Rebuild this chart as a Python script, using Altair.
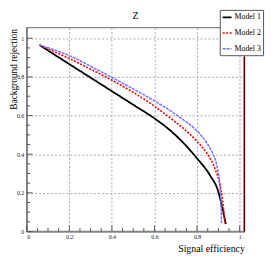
import altair as alt
import pandas as pd

title_text = ["Z"]
models = ["Model 1", "Model 2", "Model 3"]
colors = ["#000000", "#ff0000", "#7070ff"]
dashes = [[1, 0], [2, 1.5], [3, 1]]
widths = [1.8, 1.5, 1.2]

m1_x = [0.06, 0.2, 0.3, 0.4, 0.5, 0.6, 0.661, 0.73, 0.80, 0.861, 0.90, 0.915, 0.925, 0.935]
m1_y = [0.965, 0.866, 0.796, 0.726, 0.656, 0.585, 0.535, 0.465, 0.378, 0.29, 0.205, 0.14, 0.09, 0.038]
m2_x = [0.06, 0.2, 0.3, 0.4, 0.5, 0.6, 0.7, 0.75, 0.80, 0.846, 0.884, 0.908, 0.92, 0.931]
m2_y = [0.965, 0.895, 0.84, 0.783, 0.72, 0.648, 0.565, 0.52, 0.466, 0.405, 0.325, 0.24, 0.16, 0.043]
m3_x = [0.06, 0.2, 0.3, 0.4, 0.5, 0.6, 0.66, 0.72, 0.77, 0.80, 0.846, 0.871, 0.893, 0.905, 0.911, 0.915]
m3_y = [0.965, 0.91, 0.855, 0.797, 0.738, 0.676, 0.636, 0.59, 0.55, 0.52, 0.458, 0.41, 0.34, 0.26, 0.18, 0.043]

major_ticks = [0, 0.2, 0.4, 0.6, 0.8, 1.0]
minor_ticks = [0.05, 0.1, 0.15, 0.25, 0.3, 0.35, 0.45, 0.5, 0.55, 0.65, 0.7, 0.75, 0.85, 0.9, 0.95]
x_domain = [0, 1.022]
y_domain = [0, 1.055]
edge_x = [1.022]
edge_y = [0, 0.905]

rows = []
for name, xs_, ys_ in zip(models, [m1_x, m2_x, m3_x], [m1_y, m2_y, m3_y]):
    for i, (a, b) in enumerate(zip(xs_, ys_)):
        rows.append({"model": name, "eff": a, "rej": b, "i": i})
df = pd.DataFrame(rows)

W, H = 221, 207
FONT = "Liberation Serif"
xs = alt.Scale(domain=x_domain, nice=False, zero=False)
ys = alt.Scale(domain=y_domain, nice=False, zero=False)

legend = alt.Legend(
    title=None, orient="none", legendX=196, legendY=-18,
    symbolType="stroke", symbolSize=81, symbolStrokeWidth=1.8,
    labelFont=FONT, labelFontSize=8, labelColor="#000", labelOffset=2,
    labelExpr="datum.label + '        '",
    rowPadding=6, padding=2, fillColor="white", strokeColor="#555",
)

x_axis = alt.Axis(
    values=major_ticks, format="~g", grid=True, gridColor="#aaa", gridDash=[2, 2],
    ticks=False, domainColor="#777", domainWidth=1.2,
    labelFont=FONT, labelFontSize=6, labelColor="#222", labelPadding=2,
    title="Signal efficiency", titleFont=FONT, titleFontSize=10, titleFontWeight="normal",
    titleColor="#000", titleAlign="right", titleAnchor="end", titleX=W, titleY=20,
    titleBaseline="alphabetic",
)
y_axis = alt.Axis(
    values=major_ticks, format="~g", grid=True, gridColor="#aaa", gridDash=[2, 2],
    ticks=False, domainColor="#777", domainWidth=1.2,
    labelFont=FONT, labelFontSize=6, labelColor="#222", labelPadding=3,
    title="Background rejection", titleFont=FONT, titleFontSize=9.5, titleFontWeight="normal",
    titleColor="#000", titleAngle=-90, titleAlign="right", titleX=-10.5, titleY=1,
    titleBaseline="alphabetic",
)

lines = alt.Chart(df).mark_line(clip=True, interpolate="monotone").encode(
    x=alt.X("eff:Q", scale=xs, axis=x_axis),
    y=alt.Y("rej:Q", scale=ys, axis=y_axis),
    color=alt.Color("model:N", scale=alt.Scale(domain=models, range=colors), legend=legend),
    strokeDash=alt.StrokeDash("model:N", scale=alt.Scale(domain=models, range=dashes), legend=legend),
    strokeWidth=alt.StrokeWidth("model:N", scale=alt.Scale(domain=models, range=widths), legend=None),
    order="i:Q",
)

maj_df = pd.DataFrame({"t": major_ticks})
min_df = pd.DataFrame({"t": minor_ticks})

xt_major = alt.Chart(maj_df).mark_rule(color="#555", strokeWidth=1).encode(
    x=alt.X("t:Q", scale=xs), y=alt.value(H), y2=alt.value(H - 6))
xt_minor = alt.Chart(min_df).mark_rule(color="#555", strokeWidth=1).encode(
    x=alt.X("t:Q", scale=xs), y=alt.value(H), y2=alt.value(H - 3.5))
yt_major = alt.Chart(maj_df).mark_rule(color="#555", strokeWidth=1).encode(
    y=alt.Y("t:Q", scale=ys), x=alt.value(0), x2=alt.value(6))
yt_minor = alt.Chart(min_df).mark_rule(color="#555", strokeWidth=1).encode(
    y=alt.Y("t:Q", scale=ys), x=alt.value(0), x2=alt.value(3.5))

edge_df = pd.DataFrame({"ex": edge_x, "y0": [edge_y[0]], "y1": [edge_y[1]]})
edge = alt.Chart(edge_df).mark_rule(color="#6b0000", strokeWidth=1.5).encode(
    x=alt.X("ex:Q", scale=xs),
    y=alt.Y("y0:Q", scale=ys),
    y2="y1:Q",
)

title = alt.Chart(pd.DataFrame({"t": title_text})).mark_text(
    font=FONT, fontSize=10, color="#000", baseline="middle", align="center"
).encode(text="t:N", x=alt.value(W / 2), y=alt.value(-12))

chart = alt.layer(lines, xt_major, xt_minor, yt_major, yt_minor, edge, title).properties(
    width=W, height=H,
    padding={"left": 19, "top": 18, "right": 24, "bottom": 25},
    autosize=alt.AutoSizeParams(type="none"),
).configure_view(stroke="#888", strokeWidth=1.5)

chart.save("out.html", embed_options={"renderer": "svg", "actions": False})
